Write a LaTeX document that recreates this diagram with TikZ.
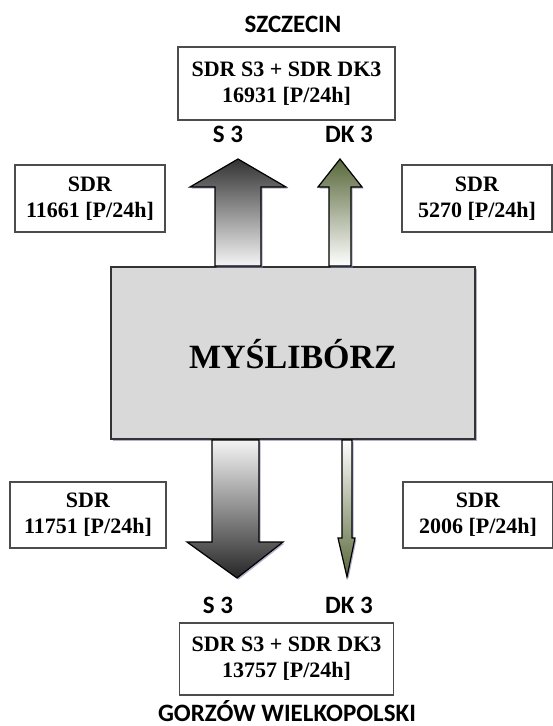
\documentclass[tikz,border=0pt]{standalone}
\usepackage{fontspec}
\setmainfont{Liberation Serif}
\newfontfamily\cityfont{Carlito}
\usetikzlibrary{positioning,shadows}
\definecolor{olive3}{RGB}{88,104,58}

\tikzset{
  sdrbox/.style={draw=black!70, line width=1.1pt, fill=white, align=center, inner sep=0pt,
    font=\fontsize{22}{26}\selectfont\bfseries},
  roadlabel/.style={font=\cityfont\fontsize{25}{28}\selectfont\bfseries, inner sep=0pt},
  softshadow/.style={drop shadow={shadow xshift=1.5pt,shadow yshift=-1.5pt,fill=blue!25!gray!70,opacity=.7}},
  blockarrow/.style={softshadow, draw=black, line width=1.2pt},
}

\begin{document}
\begin{tikzpicture}[x=1pt,y=-1pt]
  \useasboundingbox (0,0) rectangle (553,726);
  % centre box
  \node[draw=black!80, line width=2pt, fill=black!15, softshadow, minimum width=364pt, minimum height=172pt] (town) at (293,353) {};
  \node[anchor=base, inner sep=0pt, font=\fontsize{34}{38}\selectfont\bfseries] (townname) at (293,368) {MYŚLIBÓRZ};
  % cities and sums
  \node[roadlabel] (szczecin) at (293,24) {SZCZECIN};
  \node[sdrbox, minimum width=217pt, minimum height=73pt] (sumtop) at (286.5,83.5) {SDR S3 + SDR DK3\\16931 [P/24h]};
  \node[sdrbox, minimum width=214pt, minimum height=72pt] (sumbot) at (286.5,659) {SDR S3 + SDR DK3\\13757 [P/24h]};
  \node[roadlabel, anchor=base, text depth=0pt] (gorzow) at (287,721) {GORZÓW WIELKOPOLSKI};
  % road labels
  \node[roadlabel] (s3top) at (228,134) {S 3};
  \node[roadlabel] (dk3top) at (349,134) {DK 3};
  \node[roadlabel] (s3bot) at (218,605) {S 3};
  \node[roadlabel] (dk3bot) at (349,605) {DK 3};
  % side counts
  \node[sdrbox, minimum width=150pt, minimum height=67pt] (sdrUL) at (90,198.5) {SDR\\11661 [P/24h]};
  \node[sdrbox, minimum width=150pt, minimum height=67pt] (sdrUR) at (477,198.5) {SDR\\5270 [P/24h]};
  \node[sdrbox, minimum width=156pt, minimum height=66pt] (sdrDL) at (88,515) {SDR\\11751 [P/24h]};
  \node[sdrbox, minimum width=150pt, minimum height=66pt] (sdrDR) at (478,515) {SDR\\2006 [P/24h]};
  % arrows out of the town
  \shade[blockarrow, top color=black!80, bottom color=black!4]
    (215,0 |- town.north) -- (215,187) -- (190,187) -- (238,159) -- (286,187) -- (261,187) -- (261,0 |- town.north) -- cycle;
  \shade[blockarrow, top color=olive3, bottom color=white]
    (329,0 |- town.north) -- (329,187) -- (318,187) -- (340,159) -- (362,187) -- (351,187) -- (351,0 |- town.north) -- cycle;
  \shade[blockarrow, top color=black!4, bottom color=black!85]
    (212,0 |- town.south) -- (212,542) -- (187,542) -- (237,578) -- (283,542) -- (259,542) -- (259,0 |- town.south) -- cycle;
  \shade[blockarrow, top color=white, bottom color=olive3]
    (342,0 |- town.south) -- (342,538) -- (338,538) -- (347,577) -- (355,538) -- (352,538) -- (352,0 |- town.south) -- cycle;
\end{tikzpicture}
\end{document}
